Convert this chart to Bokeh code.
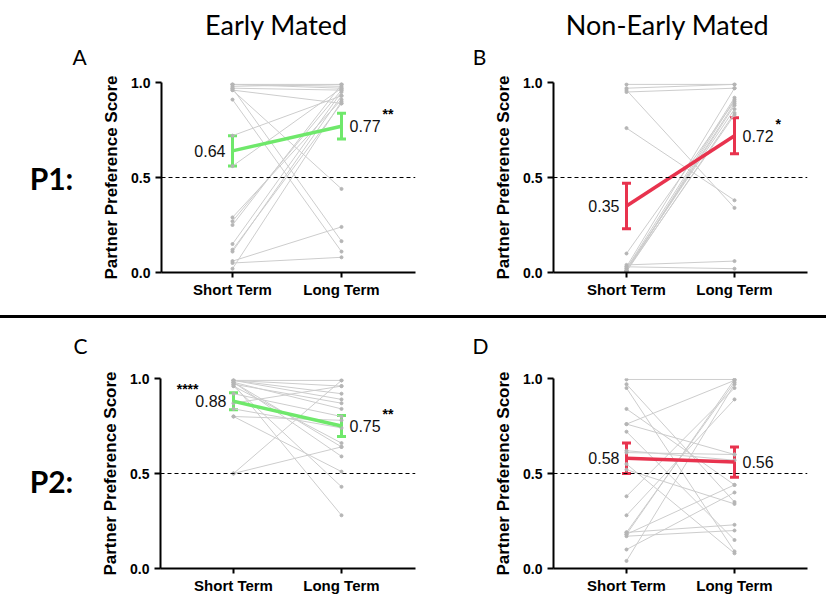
from bokeh.plotting import figure
from bokeh.layouts import column, row
from bokeh.models import (Div, Range1d, FixedTicker, Whisker, TeeHead, ColumnDataSource,
                          Span, NumeralTickFormatter)
from bokeh.embed import file_html
from bokeh.resources import INLINE
from bokeh.core.properties import value

# ---------------- data ----------------
categories = ["Short Term", "Long Term"]
col_titles = ["Early Mated", "Non-Early Mated"]
row_titles = ["P1:", "P2:"]
panel_letters = ["A", "B", "C", "D"]

a_short = [0.99, 0.99, 0.98, 0.97, 0.96, 0.96, 0.91, 0.97, 0.72, 0.56, 0.27, 0.25, 0.15, 0.11, 0.06, 0.05, 0.02, 0.99, 0.29, 0.12]
a_long = [0.99, 0.98, 0.99, 0.96, 0.89, 0.44, 0.11, 0.165, 0.93, 0.97, 0.96, 0.99, 0.95, 0.93, 0.24, 0.08, 0.90, 0.97, 0.91, 0.89]
a_mean = [0.64, 0.77]
a_err = [0.08, 0.068]
a_stars = ["", "**"]

b_short = [0.99, 0.97, 0.95, 0.96, 0.76, 0.10, 0.04, 0.03, 0.02, 0.01, 0.02, 0.005, 0.01, 0.03, 0.005, 0.01]
b_long = [0.99, 0.99, 0.97, 0.34, 0.38, 0.90, 0.06, 0.02, 0.92, 0.88, 0.86, 0.84, 0.89, 0.97, 0.91, 0.83]
b_mean = [0.35, 0.72]
b_err = [0.12, 0.095]
b_stars = ["", "*"]

c_short = [0.99, 0.99, 0.98, 0.98, 0.97, 0.96, 0.99, 0.92, 0.87, 0.84, 0.80, 0.50, 0.50, 0.98, 0.96, 0.99, 0.97, 0.80]
c_long = [0.99, 0.92, 0.84, 0.64, 0.28, 0.43, 0.89, 0.80, 0.96, 0.74, 0.51, 0.99, 0.64, 0.59, 0.66, 0.96, 0.87, 0.78]
c_mean = [0.88, 0.75]
c_err = [0.045, 0.055]
c_stars = ["****", "**"]

d_short = [0.995, 0.76, 0.97, 0.95, 0.84, 0.76, 0.72, 0.62, 0.61, 0.52, 0.38, 0.28, 0.19, 0.18, 0.17, 0.19, 0.10, 0.04, 0.55, 0.18]
d_long = [0.995, 0.99, 0.35, 0.09, 0.44, 0.60, 0.15, 0.57, 0.60, 0.34, 0.95, 0.89, 0.98, 0.44, 0.20, 0.23, 0.40, 0.97, 0.08, 0.995]
d_mean = [0.58, 0.56]
d_err = [0.08, 0.08]
d_stars = ["", ""]

GREEN = "#6FE86B"
RED = "#E8334E"
GRAY_LINE = "#cdcdcd"
GRAY_DOT = "#b5b5b5"
TICK_FONT = "Liberation Sans"
HEAD_FONT = "Lato"
NOSHRINK = {"flex-shrink": "0"}


def make_panel(g, short, long_, mean, err, stars, color):
    u = g["xl"] - g["xs"]
    x0 = 1 - (g["xs"] - g["FL"]) / u
    x1 = 2 + (g["FR"] - g["xl"]) / u
    p = figure(width=g["W"], height=g["H"], x_range=Range1d(x0, x1), y_range=Range1d(0, 1),
               output_backend="svg", toolbar_location=None, title=None,
               min_border_left=g["FL"], min_border_right=g["W"] - g["FR"],
               min_border_top=g["T"], min_border_bottom=g["H"] - g["B"], styles=NOSHRINK)
    p.outline_line_color = None
    p.grid.visible = False

    p.yaxis.ticker = FixedTicker(ticks=[0, 0.5, 1.0])
    p.yaxis.formatter = NumeralTickFormatter(format="0.0")
    p.yaxis.axis_label = "Partner Preference Score"
    p.yaxis.axis_label_text_font = TICK_FONT
    p.yaxis.axis_label_text_font_style = "bold"
    p.yaxis.axis_label_text_font_size = "17px"
    p.yaxis.axis_label_text_color = "black"
    p.yaxis.axis_label_standoff = 7
    p.yaxis.major_label_text_font_size = "14px"
    p.yaxis.major_label_standoff = 5
    p.yaxis.major_tick_out = 6
    p.xaxis.ticker = FixedTicker(ticks=[1, 2])
    p.xaxis.major_label_overrides = {1: categories[0], 2: categories[1]}
    p.xaxis.major_label_text_font_size = "15px"
    p.xaxis.major_label_standoff = 3
    p.xaxis.major_tick_out = 5
    for ax in (p.xaxis, p.yaxis):
        ax.major_label_text_font = TICK_FONT
        ax.major_label_text_font_style = "bold"
        ax.major_label_text_color = "black"
        ax.axis_line_width = 2
        ax.axis_line_color = "black"
        ax.major_tick_line_width = 2
        ax.major_tick_line_color = "black"
        ax.major_tick_in = 0
        ax.minor_tick_line_color = None

    p.add_layout(Span(location=0.5, dimension="width", line_color="black", line_width=1,
                      line_dash="4 3"))

    n = len(short)
    src = ColumnDataSource(dict(xa=[1] * n, xb=[2] * n, ya=short, yb=long_))
    p.segment(x0="xa", y0="ya", x1="xb", y1="yb", source=src, line_color=GRAY_LINE, line_width=1)
    p.scatter(x="xa", y="ya", source=src, size=3, color=GRAY_DOT)
    p.scatter(x="xb", y="yb", source=src, size=3, color=GRAY_DOT)

    msrc = ColumnDataSource(dict(x=[1, 2], m=mean,
                                 lo=[m - e for m, e in zip(mean, err)],
                                 hi=[m + e for m, e in zip(mean, err)]))
    p.line(x="x", y="m", source=msrc, line_color=color, line_width=3.5)
    p.add_layout(Whisker(base="x", lower="lo", upper="hi", source=msrc, line_color=color,
                         line_width=3,
                         upper_head=TeeHead(size=9, line_color=color, line_width=3),
                         lower_head=TeeHead(size=9, line_color=color, line_width=3)))
    s0 = ColumnDataSource(dict(x=[1], m=[mean[0]], lab=["%.2f" % mean[0]], st=[stars[0]]))
    s1 = ColumnDataSource(dict(x=[2], m=[mean[1]], lab=["%.2f" % mean[1]], st=[stars[1]]))
    common = dict(text_baseline="middle", text_font=value(TICK_FONT))
    p.text(x="x", y="m", text="lab", source=s0, x_offset=-7, text_align="right",
           text_font_size="16px", text_color="#111111", **common)
    p.text(x="x", y="m", text="lab", source=s1, x_offset=8, text_align="left",
           text_font_size="16px", text_color="#111111", **common)
    p.text(x="x", y="m", text="st", source=s0, x_offset=-35, y_offset=-12, text_align="right",
           text_font_size="14px", text_font_style="bold", text_color="black", **common)
    p.text(x="x", y="m", text="st", source=s1, x_offset=41, y_offset=-12, text_align="left",
           text_font_size="14px", text_font_style="bold", text_color="black", **common)
    return p


def text_fig(W, H, items):
    # items: (text, x_center_px, y_center_px, size, style)
    f = figure(width=W, height=H, x_range=Range1d(0, W), y_range=Range1d(H, 0),
               x_axis_location=None, y_axis_location=None, output_backend="svg",
               toolbar_location=None, title=None, min_border=0, styles=NOSHRINK)
    f.outline_line_color = None
    f.grid.visible = False
    for t, x, y, size, style in items:
        src = ColumnDataSource(dict(x=[x], y=[y], t=[t]))
        f.text(x="x", y="y", text="t", source=src, text_align="center",
               text_baseline="middle", text_font=value(HEAD_FONT), text_font_size=size,
               text_font_style=style, text_color="black")
    return f


gA = dict(W=323, H=245, FL=66, FR=320, T=12, B=204, xs=137, xl=246)
gB = dict(W=408, H=245, FL=135, FR=389, T=9, B=202, xs=208, xl=316)
gC = dict(W=323, H=236, FL=65, FR=320, T=18, B=209, xs=138, xl=246)
gD = dict(W=408, H=236, FL=135, FR=389, T=17, B=210, xs=208, xl=316)

pA = make_panel(gA, a_short, a_long, a_mean, a_err, a_stars, GREEN)
pB = make_panel(gB, b_short, b_long, b_mean, b_err, b_stars, RED)
pC = make_panel(gC, c_short, c_long, c_mean, c_err, c_stars, GREEN)
pD = make_panel(gD, d_short, d_long, d_mean, d_err, d_stars, RED)

header1 = text_fig(826, 70, [(col_titles[0], 276, 24, "27px", "normal"),
                             (col_titles[1], 667, 24, "27px", "normal"),
                             (panel_letters[0], 79, 56, "21px", "normal"),
                             (panel_letters[1], 479, 56, "21px", "normal")])
side1 = text_fig(95, 245, [(row_titles[0], 51, 123, "30px", "bold")])
header2 = text_fig(826, 42, [(panel_letters[2], 80, 27, "21px", "normal"),
                             (panel_letters[3], 480, 27, "21px", "normal")])
side2 = text_fig(95, 236, [(row_titles[1], 51, 127, "30px", "bold")])

sep = Div(text="", width=826, height=3, margin=0,
          styles={"background-color": "black", "flex-shrink": "0"})

layout = column(header1, row(side1, pA, pB), sep, header2, row(side2, pC, pD))

open("out.html", "w").write(file_html(layout, INLINE))
